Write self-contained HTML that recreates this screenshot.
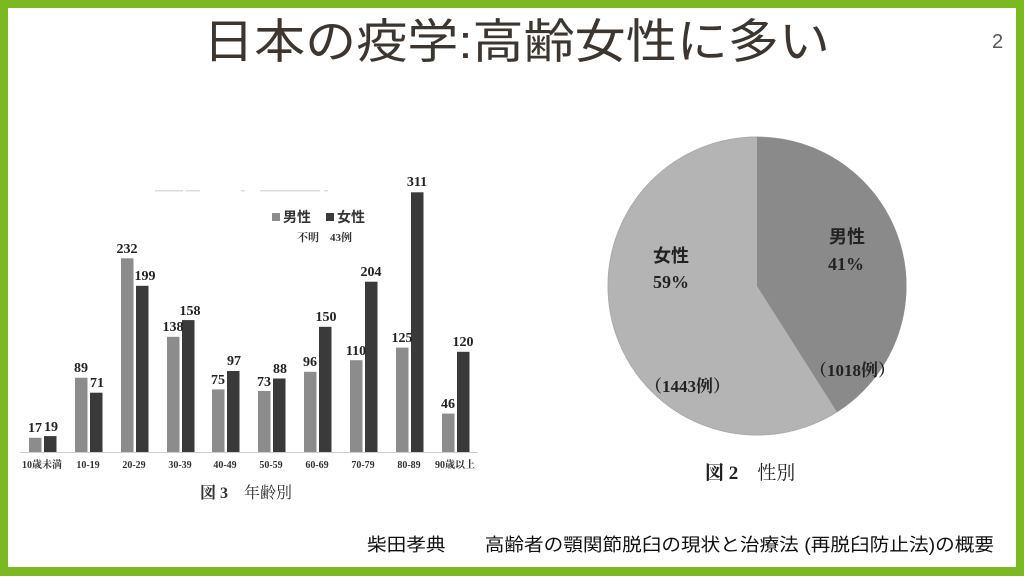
<!DOCTYPE html>
<html><head><meta charset="utf-8"><style>
html,body{margin:0;padding:0;background:#fff}
</style></head><body>
<svg width="1024" height="576" viewBox="0 0 1024 576" xmlns="http://www.w3.org/2000/svg">
<rect x="0" y="0" width="1024" height="576" fill="#7cb822"/>
<rect x="8" y="8" width="1008" height="559" fill="#fff"/>
<text x="203" y="58" font-family="Liberation Sans, Noto Sans CJK JP, sans-serif" font-size="47" fill="#3d3530" textLength="627" lengthAdjust="spacingAndGlyphs">日本の疫学:高齢女性に多い</text>
<text x="992" y="48" font-family="Liberation Sans, sans-serif" font-size="20" fill="#555">2</text>

<line x1="20" y1="452.5" x2="478" y2="452.5" stroke="#ccc" stroke-width="1"/>
<g fill="#ddd"><rect x="155" y="190" width="28" height="1.5"/><rect x="186" y="190" width="14" height="1.5"/><rect x="241" y="190" width="4" height="1.5"/><rect x="260" y="190" width="60" height="1.5"/><rect x="324" y="190" width="4" height="1.5"/></g>
<rect x="272" y="213" width="8" height="8" fill="#8c8c8c"/>
<text x="283" y="222" font-family="Liberation Sans, Noto Sans CJK JP, sans-serif" font-weight="bold" font-size="14" fill="#333">男性</text>
<rect x="326" y="213" width="8" height="8" fill="#3a3a3a"/>
<text x="337" y="222" font-family="Liberation Sans, Noto Sans CJK JP, sans-serif" font-weight="bold" font-size="14" fill="#333">女性</text>
<text x="297" y="241" font-family="Liberation Serif, Noto Serif CJK SC, serif" font-weight="bold" font-size="11" fill="#333">不明　43例</text>
<text x="200" y="498" font-family="Liberation Serif, Noto Serif CJK SC, serif" font-size="16" fill="#333"><tspan font-weight="bold">図 3</tspan>　年齢別</text>

<circle cx="757" cy="286" r="149" fill="#b4b4b4" stroke="#aaa" stroke-width="1"/>
<path d="M757,286 L757,137 A149,149 0 0 1 837,412 Z" fill="#8a8a8a"/>
<g font-family="Liberation Serif, Noto Serif CJK SC, serif" font-weight="bold" fill="#222">
<text x="829" y="243" font-size="18" font-family="Liberation Sans, Noto Sans CJK JP, sans-serif">男性</text>
<text x="828" y="270" font-size="18">41%</text>
<text x="653" y="262" font-size="18" font-family="Liberation Sans, Noto Sans CJK JP, sans-serif">女性</text>
<text x="653" y="288" font-size="18">59%</text>
<text x="810" y="376" font-size="17">（1018例）</text>
<text x="645" y="392" font-size="17">（1443例）</text>
<text x="705" y="479" font-size="19" font-weight="normal"><tspan font-weight="bold">図 2</tspan>　性別</text>
</g>
<text x="367" y="551" font-family="Liberation Sans, Noto Sans CJK JP, sans-serif" font-size="18" fill="#111" textLength="627" lengthAdjust="spacingAndGlyphs">柴田孝典　　高齢者の顎関節脱臼の現状と治療法 (再脱臼防止法)の概要</text>

<g font-family="Liberation Serif, Noto Serif CJK SC, serif" font-weight="bold" fill="#222">
<rect x="29" y="437.8" width="12.5" height="14.2" fill="#8c8c8c"/><rect x="44" y="436.1" width="12.5" height="15.9" fill="#3a3a3a"/>
<text x="35" y="432" font-size="14" text-anchor="middle">17</text><text x="51" y="431" font-size="14" text-anchor="middle">19</text>
<rect x="75" y="377.7" width="12.5" height="74.3" fill="#8c8c8c"/><rect x="90" y="392.7" width="12.5" height="59.3" fill="#3a3a3a"/>
<text x="81" y="372" font-size="14" text-anchor="middle">89</text><text x="97" y="387" font-size="14" text-anchor="middle">71</text>
<rect x="121" y="258.3" width="12.5" height="193.7" fill="#8c8c8c"/><rect x="136" y="285.8" width="12.5" height="166.2" fill="#3a3a3a"/>
<text x="127" y="253" font-size="14" text-anchor="middle">232</text><text x="145" y="280" font-size="14" text-anchor="middle">199</text>
<rect x="167" y="336.8" width="12.5" height="115.2" fill="#8c8c8c"/><rect x="182" y="320.1" width="12.5" height="131.9" fill="#3a3a3a"/>
<text x="173" y="331" font-size="14" text-anchor="middle">138</text><text x="190" y="315" font-size="14" text-anchor="middle">158</text>
<rect x="212" y="389.4" width="12.5" height="62.6" fill="#8c8c8c"/><rect x="227" y="371.0" width="12.5" height="81.0" fill="#3a3a3a"/>
<text x="218" y="384" font-size="14" text-anchor="middle">75</text><text x="234" y="365" font-size="14" text-anchor="middle">97</text>
<rect x="258" y="391.0" width="12.5" height="61.0" fill="#8c8c8c"/><rect x="273" y="378.5" width="12.5" height="73.5" fill="#3a3a3a"/>
<text x="264" y="386" font-size="14" text-anchor="middle">73</text><text x="280" y="373" font-size="14" text-anchor="middle">88</text>
<rect x="304" y="371.8" width="12.5" height="80.2" fill="#8c8c8c"/><rect x="319" y="326.8" width="12.5" height="125.2" fill="#3a3a3a"/>
<text x="310" y="366" font-size="14" text-anchor="middle">96</text><text x="326" y="321" font-size="14" text-anchor="middle">150</text>
<rect x="350" y="360.2" width="12.5" height="91.8" fill="#8c8c8c"/><rect x="365" y="281.7" width="12.5" height="170.3" fill="#3a3a3a"/>
<text x="356" y="355" font-size="14" text-anchor="middle">110</text><text x="371" y="276" font-size="14" text-anchor="middle">204</text>
<rect x="396" y="347.6" width="12.5" height="104.4" fill="#8c8c8c"/><rect x="411" y="192.3" width="12.5" height="259.7" fill="#3a3a3a"/>
<text x="402" y="342" font-size="14" text-anchor="middle">125</text><text x="417" y="186" font-size="14" text-anchor="middle">311</text>
<rect x="442" y="413.6" width="12.5" height="38.4" fill="#8c8c8c"/><rect x="457" y="351.8" width="12.5" height="100.2" fill="#3a3a3a"/>
<text x="448" y="408" font-size="14" text-anchor="middle">46</text><text x="463" y="346" font-size="14" text-anchor="middle">120</text>
<g font-size="10" text-anchor="middle" fill="#333">
<text x="42" y="468">10歳未満</text><text x="88" y="468">10-19</text><text x="134" y="468">20-29</text><text x="180" y="468">30-39</text><text x="225" y="468">40-49</text><text x="271" y="468">50-59</text><text x="317" y="468">60-69</text><text x="363" y="468">70-79</text><text x="409" y="468">80-89</text><text x="455" y="468">90歳以上</text>
</g>
</g>
</svg>
</body></html>
